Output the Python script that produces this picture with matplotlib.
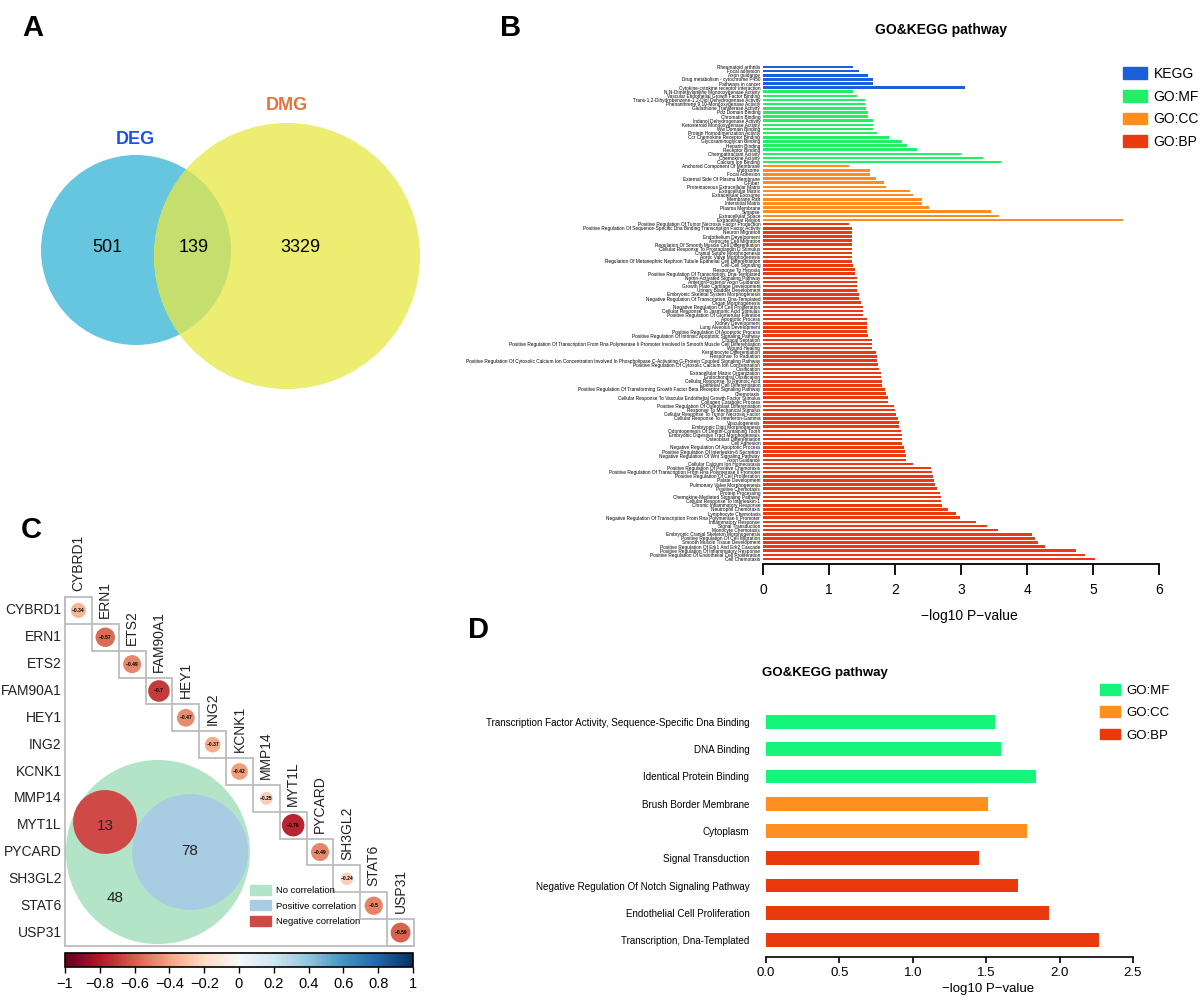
import numpy as np
import matplotlib
matplotlib.use('Agg')
import matplotlib.pyplot as plt
from matplotlib.patches import Circle, Rectangle, Patch
from matplotlib.cm import ScalarMappable
from matplotlib.colors import Normalize

plt.rcParams['font.family'] = ['Liberation Sans', 'DejaVu Sans']

# ---- data ----
# A: venn DEG / DMG
venn_labels = ['DEG', 'DMG']
venn_counts = [501, 139, 3329]   # DEG only, both, DMG only

# C: correlation of each gene
genes = ['CYBRD1', 'ERN1', 'ETS2', 'FAM90A1', 'HEY1', 'ING2', 'KCNK1',
         'MMP14', 'MYT1L', 'PYCARD', 'SH3GL2', 'STAT6', 'USP31']
gene_r = [-0.34, -0.57, -0.49, -0.7, -0.47, -0.37, -0.42, -0.25, -0.76,
          -0.49, -0.24, -0.5, -0.59]
corr_groups = ['No correlation', 'Positive correlation', 'Negative correlation']
corr_counts = [48, 78, 13]

# B: enrichment of all genes
kegg_terms = ['Rheumatoid arthritis', 'Focal adhesion', 'Axon guidance',
              'Drug metabolism - cytochrome P450', 'Pathways in cancer',
              'Cytokine-cytokine receptor interaction']
kegg_vals = [1.37, 1.46, 1.59, 1.66, 1.67, 3.06]

mf_terms = ['N,N-Dimethylaniline Monooxygenase Activity',
            'Vascular Endothelial Growth Factor Binding',
            'Trans-1,2-Dihydrobenzene-1,2-Diol Dehydrogenase Activity',
            'Phenanthrene 9,10-Monooxygenase Activity',
            'Glutathione Transferase Activity', 'Pdz Domain Binding',
            'Chromatin Binding', 'Indanol Dehydrogenase Activity',
            'Ketosteroid Monooxygenase Activity', 'Ww Domain Binding',
            'Protein Homodimerization Activity', 'Ccr Chemokine Receptor Binding',
            'Glycosaminoglycan Binding', 'Heparin Binding', 'Receptor Binding',
            'Chemoattractant Activity', 'Chemokine Activity', 'Calcium Ion Binding']
mf_vals = [1.36, 1.43, 1.54, 1.54, 1.56, 1.59, 1.59, 1.66, 1.66, 1.66, 1.73,
           1.91, 2.11, 2.18, 2.34, 3.0, 3.34, 3.61]

cc_terms = ['Anchored Component Of Membrane', 'Endosome', 'Focal Adhesion',
            'External Side Of Plasma Membrane', 'C-Fiber',
            'Proteinaceous Extracellular Matrix', 'Extracellular Matrix',
            'Extracellular Exosome', 'Membrane Raft', 'Interstitial Matrix',
            'Plasma Membrane', 'Synapse', 'Extracellular Space',
            'Extracellular Region']
cc_vals = [1.31, 1.62, 1.62, 1.71, 1.84, 1.87, 2.23, 2.28, 2.41, 2.41, 2.51,
           3.45, 3.58, 5.46]

bp_terms = [
    'Positive Regulation Of Tumor Necrosis Factor Production',
    'Positive Regulation Of Sequence-Specific Dna Binding Transcription Factor Activity',
    'Neuron Migration', 'Endothelium Development', 'Astrocyte Cell Migration',
    'Regulation Of Smooth Muscle Cell Differentiation',
    'Cellular Response To Prostaglandin D Stimulus', 'Cranial Suture Morphogenesis',
    'Aortic Valve Morphogenesis',
    'Regulation Of Metanephric Nephron Tubule Epithelial Cell Differentiation',
    'Cell-Cell Signaling', 'Response To Hypoxia',
    'Positive Regulation Of Transcription, Dna-Templated',
    'Netrin-Activated Signaling Pathway', 'Anterior/Posterior Axon Guidance',
    'Growth Plate Cartilage Development', 'Urinary Bladder Development',
    'Embryonic Skeletal System Morphogenesis',
    'Negative Regulation Of Transcription, Dna-Templated', 'Organ Morphogenesis',
    'Negative Regulation Of Cell Proliferation',
    'Cellular Response To Jasmonic Acid Stimulus',
    'Positive Regulation Of Glomerular Filtration', 'Apoptotic Process',
    'Kidney Development', 'Lung Alveolus Development',
    'Positive Regulation Of Apoptotic Process',
    'Positive Regulation Of Intrinsic Apoptotic Signaling Pathway',
    'Cloacal Septation',
    'Positive Regulation Of Transcription From Rna Polymerase Ii Promoter Involved In Smooth Muscle Cell Differentiation',
    'Wound Healing', 'Keratinocyte Differentiation', 'Response To Radiation',
    'Positive Regulation Of Cytosolic Calcium Ion Concentration Involved In Phospholipase C-Activating G-Protein Coupled Signaling Pathway',
    'Positive Regulation Of Cytosolic Calcium Ion Concentration', 'Ossification',
    'Extracellular Matrix Organization', 'Endochondral Ossification',
    'Cellular Response To Retinoic Acid', 'Epithelial Cell Differentiation',
    'Positive Regulation Of Transforming Growth Factor Beta Receptor Signaling Pathway',
    'Chemotaxis',
    'Cellular Response To Vascular Endothelial Growth Factor Stimulus',
    'Collagen Catabolic Process', 'Positive Regulation Of Osteoblast Differentiation',
    'Response To Mechanical Stimulus', 'Cellular Response To Tumor Necrosis Factor',
    'Cellular Response To Interferon-Gamma', 'Vasculogenesis',
    'Embryonic Digit Morphogenesis', 'Odontogenesis Of Dentin-Containing Tooth',
    'Embryonic Digestive Tract Morphogenesis', 'Osteoblast Differentiation',
    'Cell Adhesion', 'Negative Regulation Of Apoptotic Process',
    'Positive Regulation Of Interleukin-6 Secretion',
    'Negative Regulation Of Wnt Signaling Pathway', 'Axon Guidance',
    'Cellular Calcium Ion Homeostasis', 'Positive Regulation Of Positive Chemotaxis',
    'Positive Regulation Of Transcription From Rna Polymerase Ii Promoter',
    'Positive Regulation Of Cell Proliferation', 'Palate Development',
    'Pulmonary Valve Morphogenesis', 'Positive Chemotaxis', 'Protein Processing',
    'Chemokine-Mediated Signaling Pathway', 'Cellular Response To Interleukin-1',
    'Chronic Inflammatory Response', 'Neutrophil Chemotaxis', 'Lymphocyte Chemotaxis',
    'Negative Regulation Of Transcription From Rna Polymerase Ii Promoter',
    'Inflammatory Response', 'Signal Transduction', 'Monocyte Chemotaxis',
    'Embryonic Cranial Skeleton Morphogenesis', 'Positive Regulation Of Cell Migration',
    'Smooth Muscle Tissue Development', 'Positive Regulation Of Erk1 And Erk2 Cascade',
    'Positive Regulation Of Inflammatory Response',
    'Positive Regulation Of Endothelial Cell Proliferation', 'Cell Chemotaxis']
bp_vals = [1.31, 1.35, 1.35, 1.35, 1.35, 1.35, 1.35, 1.35, 1.35, 1.35,
           1.37, 1.39, 1.39, 1.42, 1.43, 1.43, 1.43, 1.46, 1.46, 1.49,
           1.52, 1.52, 1.52, 1.57, 1.57, 1.57, 1.58, 1.59, 1.65, 1.65,
           1.65, 1.71, 1.72, 1.73, 1.74, 1.76, 1.79, 1.79, 1.80, 1.80,
           1.85, 1.87, 1.89, 1.90, 1.98, 2.00, 2.02, 2.04, 2.06, 2.06,
           2.09, 2.10, 2.10, 2.10, 2.13, 2.15, 2.16, 2.16, 2.28, 2.54,
           2.56, 2.57, 2.59, 2.61, 2.64, 2.68, 2.70, 2.70, 2.71, 2.81,
           2.92, 2.99, 3.23, 3.39, 3.56, 4.08, 4.12, 4.17, 4.28, 4.74,
           4.88, 5.03]

# D: enrichment of the overlapping genes
d_terms = ['Transcription Factor Activity, Sequence-Specific Dna Binding',
           'DNA Binding', 'Identical Protein Binding', 'Brush Border Membrane',
           'Cytoplasm', 'Signal Transduction',
           'Negative Regulation Of Notch Signaling Pathway',
           'Endothelial Cell Proliferation', 'Transcription, Dna-Templated']
d_cats = ['GO:MF', 'GO:MF', 'GO:MF', 'GO:CC', 'GO:CC', 'GO:BP', 'GO:BP', 'GO:BP', 'GO:BP']
d_vals = [1.56, 1.60, 1.84, 1.51, 1.78, 1.45, 1.72, 1.93, 2.27]

cb_ticks = [-1, -0.8, -0.6, -0.4, -0.2, 0, 0.2, 0.4, 0.6, 0.8, 1]

# ---- figure ----
W, H = 1200, 1001
fig = plt.figure(figsize=(12, 10.01), dpi=100)


def px_axes(x0, y0, x1, y1):
    return fig.add_axes([x0 / W, 1 - y1 / H, (x1 - x0) / W, (y1 - y0) / H])


def minus(s):
    return s.replace('-', '\u2212')


# panel letters
for letter, x, y in [('A', 22, 28), ('B', 500, 28), ('C', 21, 530), ('D', 468, 630)]:
    fig.text(x / W, 1 - y / H, letter, fontsize=21, fontweight='bold', ha='left', va='center')

# ---- A: venn ----
axA = px_axes(0, 0, 480, 470)
axA.set_xlim(0, 480)
axA.set_ylim(470, 0)
axA.axis('off')
deg = Circle((136, 250), 95, color='#66C6DF', lw=0)
dmg = Circle((287, 256), 133, color='#EDED72', lw=0)
axA.add_patch(deg)
axA.add_patch(dmg)
both = Circle((136, 250), 95, color='#C4DF6E', lw=0)
axA.add_patch(both)
both.set_clip_path(dmg)
axA.text(135, 140, venn_labels[0], color='#1A4FF0', fontsize=13, fontweight='bold', ha='center', va='center')
axA.text(287, 106, venn_labels[1], color='#E8703A', fontsize=13, fontweight='bold', ha='center', va='center')
for cnt, x in zip(venn_counts, [107, 194, 300]):
    axA.text(x, 248, str(cnt), fontsize=13, ha='center', va='center')

# ---- B: all terms ----
colors = {'KEGG': '#1C5FDB', 'GO:MF': '#22EE66', 'GO:CC': '#FF8C1F', 'GO:BP': '#EB3A12'}
terms = kegg_terms + mf_terms + cc_terms + bp_terms
vals = kegg_vals + mf_vals + cc_vals + bp_vals
cats = (['KEGG'] * len(kegg_terms) + ['GO:MF'] * len(mf_terms) +
        ['GO:CC'] * len(cc_terms) + ['GO:BP'] * len(bp_terms))
axB = px_axes(763, 62, 1159, 564)
y = np.arange(len(terms))
axB.barh(y, vals, height=0.62, color=[colors[c] for c in cats])
axB.set_ylim(len(terms) - 1 + 1.2, -1.2)
axB.set_xlim(0, 6)
axB.set_yticks(y)
axB.set_yticklabels(terms, fontsize=3.4)
axB.tick_params(axis='y', length=0, pad=2)
axB.set_xticks(range(7))
axB.tick_params(axis='x', length=8, width=1.3, labelsize=10, pad=6)
for s in ['left', 'top', 'right']:
    axB.spines[s].set_visible(False)
axB.spines['bottom'].set_linewidth(1.3)
axB.set_xlabel('\u2212log10 P\u2212value', fontsize=10, labelpad=10)
axB.xaxis.set_label_coords(0.52, -0.09)
fig.text(941 / W, 1 - 30 / H, 'GO&KEGG pathway', fontsize=10, fontweight='bold', ha='center', va='center')
fig.legend(handles=[Patch(color=colors[k]) for k in colors], labels=list(colors),
           loc='upper left', bbox_to_anchor=(1123 / W, 1 - 67 / H), frameon=False,
           fontsize=10, handlelength=1.7, handleheight=0.9, labelspacing=0.62,
           handletextpad=0.5, borderpad=0, borderaxespad=0)

# ---- C: correlation ----
cmap = plt.get_cmap('RdBu')
norm = Normalize(-1, 1)
n = len(genes)
axC = px_axes(65, 597, 414, 946)
axC.set_xlim(-0.5, n - 0.5)
axC.set_ylim(n - 0.5, -0.5)
axC.axis('off')
grid_c = '#BDBDBD'
axC.plot([-0.5, -0.5], [-0.5, n - 0.5], color=grid_c, lw=1.3, clip_on=False)
axC.plot([-0.5, n - 0.5], [n - 0.5, n - 0.5], color=grid_c, lw=1.3, clip_on=False)

# venn of correlation groups
axC.add_patch(Circle((2.96, 9.0), 3.43, color='#B4E4C8', lw=0))
axC.add_patch(Circle((4.16, 9.0), 2.16, color='#A8CDE2', lw=0))
axC.add_patch(Circle((0.99, 7.88), 1.19, color='#CF4A47', lw=0))
for cnt, (cx, cy) in zip(corr_counts, [(1.36, 10.71), (4.16, 8.96), (0.99, 8.03)]):
    axC.text(cx, cy, str(cnt), fontsize=11, ha='center', va='center', color='#222222')

for i, (g, r) in enumerate(zip(genes, gene_r)):
    axC.add_patch(Rectangle((i - 0.5, i - 0.5), 1, 1, fill=False, ec=grid_c, lw=1.3, clip_on=False))
    axC.add_patch(Circle((i, i), 0.48 * np.sqrt(abs(r)), color=cmap(norm(r)), lw=0))
    axC.text(i, i, minus(f'{r:g}'), fontsize=3.6, fontweight='bold', ha='center', va='center')
    axC.text(-0.62, i, g, fontsize=10, ha='right', va='center', color='#222222')
    axC.text(i, i - 0.72, g, fontsize=10, rotation=90, ha='center', va='bottom', color='#222222')

fig.legend(handles=[Patch(color=c) for c in ['#B4E4C8', '#A8CDE2', '#CF4A47']],
           labels=corr_groups, loc='upper left', bbox_to_anchor=(250 / W, 1 - 885 / H),
           frameon=False, fontsize=6.8, handlelength=2.2, handleheight=1.25,
           labelspacing=0.55, handletextpad=0.6, borderpad=0, borderaxespad=0)

cax = px_axes(65, 953, 413, 967)
cb = fig.colorbar(ScalarMappable(norm=norm, cmap=cmap), cax=cax, orientation='horizontal')
cb.set_ticks(cb_ticks)
cb.set_ticklabels([minus(f'{t:g}') for t in cb_ticks])
cb.ax.tick_params(labelsize=10.5, length=4, width=1, pad=3)
cb.outline.set_linewidth(1.2)

# ---- D: overlapping genes ----
d_colors = {'GO:MF': '#14F57A', 'GO:CC': '#FF9020', 'GO:BP': '#E83A0C'}
axD = px_axes(766, 705, 1133, 957)
yd = np.arange(len(d_terms))
axD.barh(yd, d_vals, height=0.5, color=[d_colors[c] for c in d_cats])
axD.set_ylim(len(d_terms) - 1 + 0.62, -0.62)
axD.set_xlim(0, 2.5)
axD.set_yticks(yd)
axD.set_yticklabels(d_terms, fontsize=7.1)
axD.tick_params(axis='y', length=0, pad=12)
xt = np.arange(0, 2.51, 0.5)
axD.set_xticks(xt)
axD.set_xticklabels([f'{t:.1f}' for t in xt])
axD.tick_params(axis='x', length=4, width=1.2, labelsize=9.5, pad=3)
for s in ['left', 'top', 'right']:
    axD.spines[s].set_visible(False)
axD.spines['bottom'].set_linewidth(1.2)
axD.set_xlabel('\u2212log10 P\u2212value', fontsize=9.5, labelpad=1)
axD.xaxis.set_label_coords(0.605, -0.105)
fig.text(825 / W, 1 - 673 / H, 'GO&KEGG pathway', fontsize=9.5, fontweight='bold',
         ha='center', va='center')
fig.legend(handles=[Patch(color=d_colors[k]) for k in d_colors], labels=list(d_colors),
           loc='upper left', bbox_to_anchor=(1100 / W, 1 - 684 / H), frameon=False,
           fontsize=9.5, handlelength=1.5, handleheight=0.9,
           labelspacing=0.7, handletextpad=0.5, borderpad=0, borderaxespad=0)

fig.savefig('out.png', dpi=100)
